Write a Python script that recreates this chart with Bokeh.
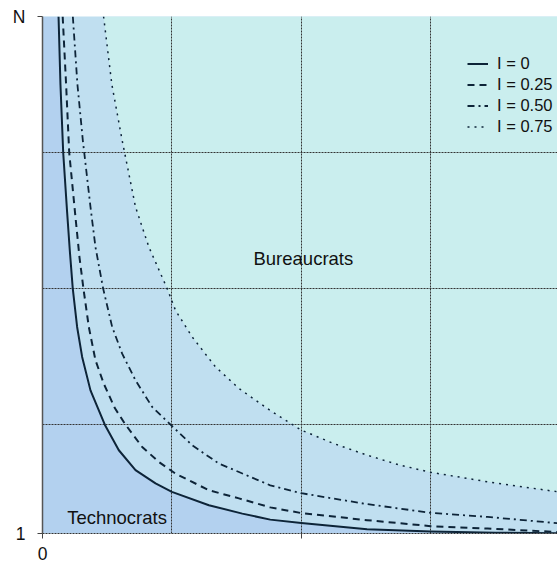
from bokeh.plotting import figure
from bokeh.models import Range1d, FixedTicker, Legend
from bokeh.core.properties import value
from bokeh.embed import file_html
from bokeh.resources import INLINE

# ---- data ----
x_min, x_max = 0.0, 1.0
x_view_max = 0.995          # the right edge of the plot is just past the window
y_min, y_max = 1.0, 20.0
x_ticks = [0.0, 0.5, 1.0]
x_tick_labels = {0.0: "0", 0.5: "", 1.0: "1"}
y_ticks = [1.0, 20.0]
y_tick_labels = {1.0: "1", 20.0: "N"}
x_grid = [0.25, 0.5, 0.75]
y_grid = [5, 10, 15]

series_labels = ["I = 0", "I = 0.25", "I = 0.50", "I = 0.75"]

i0_x = [0.031, 0.0347, 0.040, 0.0476, 0.0527, 0.0585, 0.0669, 0.0766, 0.0927, 0.1204, 0.1475,
        0.1797, 0.2184, 0.25, 0.3215, 0.386, 0.44, 0.5, 0.627, 0.75, 0.875, 1.0]
i0_y = [20.0, 17.5, 15.0, 12.8, 11.41, 10.0, 8.59, 7.49, 6.26, 5.0, 4.06,
        3.33, 2.84, 2.53, 2.04, 1.73, 1.51, 1.39, 1.16, 1.07, 1.03, 1.01]

i25_x = [0.039, 0.0456, 0.0516, 0.0637, 0.0714, 0.0791, 0.0895, 0.1023, 0.1185, 0.14, 0.1604,
         0.1926, 0.2248, 0.257, 0.3215, 0.3795, 0.44, 0.5, 0.627, 0.75, 0.86, 1.0]
i25_y = [20.0, 17.5, 15.0, 12.63, 11.16, 10.0, 8.59, 7.37, 6.5, 5.6, 5.0,
         4.18, 3.63, 3.2, 2.59, 2.29, 1.96, 1.75, 1.49, 1.27, 1.18, 1.05]

i50_x = [0.0586, 0.0675, 0.0779, 0.0927, 0.1023, 0.1172, 0.1346, 0.1539, 0.1797, 0.2119, 0.2474,
         0.2893, 0.3408, 0.3795, 0.44, 0.5, 0.627, 0.75, 0.86, 1.0]
i50_y = [20.0, 17.5, 15.45, 13.0, 11.53, 10.0, 8.59, 7.61, 6.63, 5.65, 5.0,
         4.24, 3.57, 3.26, 2.77, 2.48, 2.08, 1.76, 1.61, 1.37]

i75_x = [0.118, 0.134, 0.1539, 0.1797, 0.2055, 0.2409, 0.257, 0.2893, 0.3344, 0.3795, 0.44,
         0.5, 0.562, 0.627, 0.691, 0.75, 0.86, 1.0]
i75_y = [20.0, 17.5, 15.45, 13.0, 11.53, 10.0, 9.2, 8.22, 7.12, 6.33, 5.52,
         4.8, 4.31, 3.88, 3.51, 3.25, 2.9, 2.52]

region_labels = ["Technocrats", "Bureaucrats"]
region_x = [0.144, 0.504]
region_y = [1.6, 11.1]

# ---- styling ----
FONT = "Liberation Sans"
LINE = "#0d2438"
TECH = "#b3d1ef"
MID = "#c0dff0"
CYAN = "#caeeee"

p = figure(width=557, height=566, output_backend="svg", toolbar_location=None,
           x_range=Range1d(x_min, x_view_max), y_range=Range1d(y_min, y_max),
           min_border_left=42, min_border_right=0, min_border_top=16, min_border_bottom=33)
p.background_fill_color = MID
p.border_fill_color = "white"
p.outline_line_color = None

# regions
p.patch([x_min, x_min] + i0_x + [x_max], [y_min, y_max] + i0_y + [y_min],
        fill_color=TECH, line_color=None, level="image")
p.patch(i75_x + [x_max], i75_y + [y_max], fill_color=CYAN, line_color=None, level="image")

# curves
styles = [("solid", 2.0), ("7 5", 2.0), ("7 4 2 4", 1.8), ("2 5", 1.5)]
r_all = []
for (xs, ys), (dash, w), lab in zip([(i0_x, i0_y), (i25_x, i25_y), (i50_x, i50_y), (i75_x, i75_y)],
                                   styles, series_labels):
    r = p.line(xs, ys, line_color=LINE, line_width=w, line_dash=dash, line_join="round")
    r_all.append((lab, [r]))

legend = Legend(items=r_all, location=(419, 390))
legend.background_fill_alpha = 0
legend.border_line_alpha = 0
legend.label_text_font = FONT
legend.label_text_font_size = "16.5px"
legend.label_text_color = "#111111"
legend.glyph_width = 21
legend.glyph_height = 21
legend.label_height = 21
legend.spacing = 0
legend.padding = 6
legend.label_standoff = 9
p.add_layout(legend, "center")

# region labels
p.text(x=region_x, y=region_y, text=region_labels,
       text_font=value(FONT), text_font_size="18.5px", text_color="#111111",
       text_align="center", text_baseline="middle")

# grids
p.xgrid.ticker = FixedTicker(ticks=x_grid)
p.ygrid.ticker = FixedTicker(ticks=y_grid)
for g in (p.xgrid, p.ygrid):
    g.grid_line_color = "#333333"
    g.grid_line_dash = "2 1"
    g.grid_line_width = 1
    g.level = "underlay"

# axes
p.xaxis.ticker = FixedTicker(ticks=x_ticks)
p.xaxis.major_label_overrides = x_tick_labels
p.yaxis.ticker = FixedTicker(ticks=y_ticks)
p.yaxis.major_label_overrides = y_tick_labels
for ax in (p.xaxis, p.yaxis):
    ax.major_label_text_font = FONT
    ax.major_label_text_font_size = "17.5px"
    ax.major_label_text_color = "#111111"
    ax.minor_tick_line_color = None
    ax.major_tick_in = 0
    ax.major_tick_out = 5
    ax.major_tick_line_color = "#444444"
p.xaxis.axis_line_color = "#333333"
p.xaxis.axis_line_dash = "2 1"
p.xaxis.major_label_standoff = 8
p.yaxis.axis_line_color = "#555555"
p.yaxis.axis_line_width = 1.5
p.yaxis.major_label_standoff = 12

open("out.html", "w").write(file_html(p, INLINE))
